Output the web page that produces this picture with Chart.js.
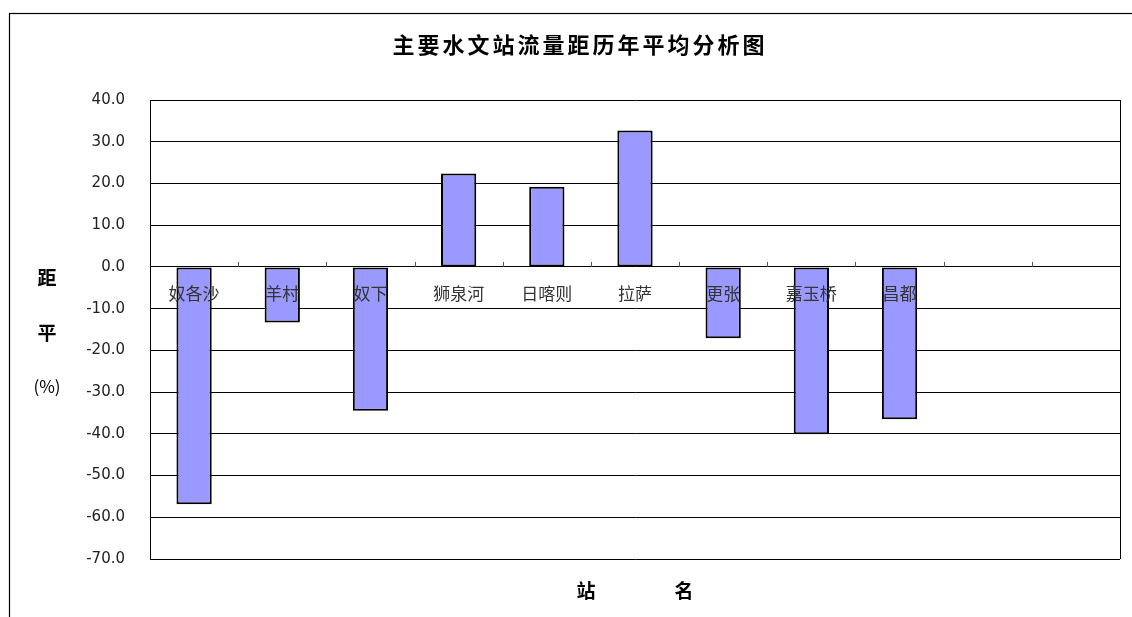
<!DOCTYPE html>
<html>
<head>
<meta charset="utf-8">
<script src="https://cdn.jsdelivr.net/npm/chart.js@4/dist/chart.umd.min.js"></script>
<style>
  body { margin: 0; background: #fff; }
  #wrap { width: 1132px; height: 617px; }
</style>
</head>
<body>
<div id="wrap"><canvas id="flowChart" width="1132" height="617"></canvas></div>
<script>
// Data
const stations = ['奴各沙', '羊村', '奴下', '狮泉河', '日喀则', '拉萨', '更张', '嘉玉桥', '昌都', '', ''];
const anomaly = [-56.9, -13.3, -34.5, 22.4, 19.2, 32.7, -17.1, -40.1, -36.5, null, null];
const yTicks = [40, 30, 20, 10, 0, -10, -20, -30, -40, -50, -60, -70];

const cjk = '"Noto Sans CJK SC", sans-serif';

// Frame, titles, station names and tick marks (Excel-style)
const decor = {
  id: 'decor',
  beforeDraw(chart) {
    const ctx = chart.ctx;
    ctx.save();
    ctx.fillStyle = '#fff';
    ctx.fillRect(0, 0, chart.width, chart.height);
    ctx.strokeStyle = '#000';
    ctx.lineWidth = 1.2;
    ctx.strokeRect(9.5, 13.5, 1140, 700);
    ctx.restore();
  },
  afterDatasetsDraw(chart) {
    const ctx = chart.ctx;
    const x = chart.scales.x;
    const y = chart.scales.y;
    const area = chart.chartArea;
    const zero = y.getPixelForValue(0);
    ctx.save();

    // right border of plot area
    ctx.strokeStyle = '#000';
    ctx.lineWidth = 1;
    ctx.beginPath();
    ctx.moveTo(area.right + 0.5, area.top);
    ctx.lineTo(area.right + 0.5, area.bottom);
    ctx.stroke();

    // tick marks on the zero line between categories
    ctx.strokeStyle = '#555';
    for (let i = 1; i < stations.length; i++) {
      const bx = Math.round((x.getPixelForValue(i - 1) + x.getPixelForValue(i)) / 2) + 0.5;
      ctx.beginPath();
      ctx.moveTo(bx, zero - 5);
      ctx.lineTo(bx, zero);
      ctx.stroke();
    }

    // station names just under the zero line
    ctx.fillStyle = '#333';
    ctx.font = '17px ' + cjk;
    ctx.textAlign = 'center';
    ctx.textBaseline = 'middle';
    stations.forEach((s, i) => {
      if (s) ctx.fillText(s, x.getPixelForValue(i), zero + 27);
    });

    // chart title
    ctx.fillStyle = '#000';
    ctx.font = 'bold 22px ' + cjk;
    ctx.letterSpacing = '3px';
    ctx.fillText('主要水文站流量距历年平均分析图', 580, 45);
    ctx.letterSpacing = '0px';

    // y axis title, stacked
    ctx.font = 'bold 19px ' + cjk;
    ctx.fillText('距', 47, 278);
    ctx.fillText('平', 47, 333);
    ctx.font = '17px ' + cjk;
    ctx.fillText('(%)', 47, 387);

    // x axis title
    ctx.font = 'bold 19px ' + cjk;
    ctx.fillText('站', 586, 591);
    ctx.fillText('名', 684, 591);
    ctx.restore();
  }
};

const ctx = document.getElementById('flowChart').getContext('2d');
new Chart(ctx, {
  type: 'bar',
  data: {
    labels: stations,
    datasets: [{
      label: '距平',
      data: anomaly,
      backgroundColor: '#9999FF',
      borderColor: '#000',
      borderWidth: 2,
      borderSkipped: false,
      categoryPercentage: 1.0,
      barPercentage: 0.4
    }]
  },
  options: {
    responsive: false,
    animation: false,
    devicePixelRatio: 1,
    layout: { padding: { left: 0, right: 12, top: 100, bottom: 58 } },
    plugins: {
      legend: { display: false },
      title: { display: false },
      tooltip: { enabled: false }
    },
    scales: {
      x: {
        display: false
      },
      y: {
        min: -70,
        max: 40,
        afterFit(scale) { scale.width = 150; },
        afterBuildTicks(scale) { scale.ticks = yTicks.map(v => ({ value: v })); },
        grid: { color: '#000', lineWidth: 1, drawTicks: false },
        border: { color: '#000', width: 1 },
        ticks: {
          padding: 25,
          color: '#222',
          font: { family: '"DejaVu Sans", sans-serif', size: 15 },
          callback: v => v.toFixed(1)
        }
      }
    }
  },
  plugins: [decor]
});
</script>
</body>
</html>
